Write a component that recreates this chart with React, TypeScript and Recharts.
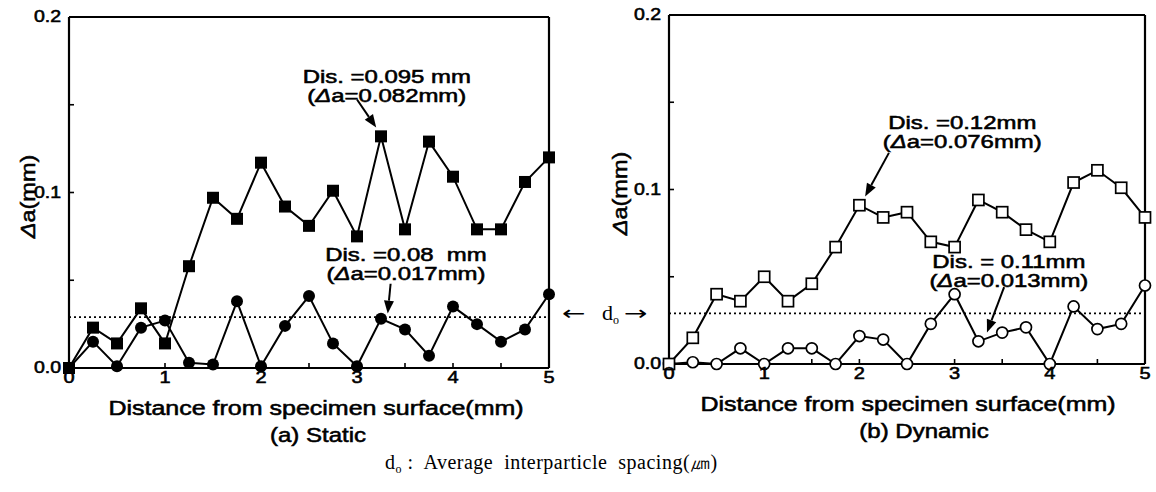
// Crack growth Δa vs distance from specimen surface — static / dynamic panels
import React from 'react';
import { LineChart, Line, XAxis, YAxis, ReferenceLine, ReferenceDot } from 'recharts';

const distance = [0, 0.25, 0.5, 0.75, 1, 1.25, 1.5, 1.75, 2, 2.25, 2.5, 2.75, 3, 3.25, 3.5, 3.75, 4, 4.25, 4.5, 4.75, 5];
const staticSquares = [0, 0.023, 0.014, 0.034, 0.014, 0.058, 0.097, 0.085, 0.117, 0.092, 0.081, 0.101, 0.075, 0.132, 0.079, 0.129, 0.109, 0.079, 0.079, 0.106, 0.12];
const staticCircles = [0, 0.015, 0.001, 0.023, 0.027, 0.003, 0.002, 0.038, 0.001, 0.024, 0.041, 0.014, 0.001, 0.028, 0.022, 0.007, 0.035, 0.025, 0.015, 0.022, 0.042];
const dynamicSquares = [0, 0.015, 0.04, 0.036, 0.05, 0.036, 0.046, 0.067, 0.091, 0.084, 0.087, 0.07, 0.067, 0.094, 0.087, 0.077, 0.07, 0.104, 0.111, 0.101, 0.084];
const dynamicCircles = [0, 0.001, 0, 0.009, 0, 0.009, 0.009, 0, 0.016, 0.014, 0, 0.023, 0.04, 0.013, 0.018, 0.021, 0, 0.033, 0.02, 0.023, 0.045];

const xTicks = [0, 0.5, 1, 1.5, 2, 2.5, 3, 3.5, 4, 4.5, 5];
const yTicks = [0, 0.05, 0.1, 0.15, 0.2];
const interparticleSpacing = 0.029;

interface Note {
  x: number;
  y: number;
  lines: string[];
  from: { x: number; y: number };
  to: { x: number; y: number };
}

const staticNotes: Note[] = [
  { x: 3.31, y: 0.166, lines: ['Dis. =0.095 mm', '(Δa=0.082mm)'], from: { x: 3.0, y: 0.153 }, to: { x: 3.2, y: 0.137 } },
  { x: 3.51, y: 0.065, lines: ['Dis. =0.08  mm', '(Δa=0.017mm)'], from: { x: 3.35, y: 0.048 }, to: { x: 3.32, y: 0.031 } },
];
const dynamicNotes: Note[] = [
  { x: 3.08, y: 0.1385, lines: ['Dis. =0.12mm', '(Δa=0.076mm)'], from: { x: 2.31, y: 0.121 }, to: { x: 2.06, y: 0.096 } },
  { x: 3.57, y: 0.059, lines: ['Dis. = 0.11mm', '(Δa=0.013mm)'], from: { x: 3.52, y: 0.044 }, to: { x: 3.34, y: 0.018 } },
];

const FONT = "'Liberation Sans', Arial, Helvetica, sans-serif";
const SERIF = "'Liberation Serif', 'Times New Roman', serif";

function rich(s: string) {
  const parts = s.split('Δ');
  const out: React.ReactNode[] = [];
  parts.forEach((p, i) => {
    if (i > 0) out.push(<tspan key={`d${i}`} fontStyle="italic">Δ</tspan>);
    if (p) out.push(<tspan key={`p${i}`}>{p}</tspan>);
  });
  return out;
}

const SText: React.FC<{ x: number; y: number; size?: number; sx?: number; anchor?: string; rotate?: number; children: React.ReactNode }> = ({
  x,
  y,
  size = 20,
  sx = 1.25,
  anchor = 'middle',
  rotate = 0,
  children,
}) => (
  <g transform={`translate(${x},${y}) rotate(${rotate}) scale(${sx},1)`}>
    <text
      x={0}
      y={0}
      fontSize={size}
      textAnchor={anchor as any}
      dominantBaseline="central"
      fontFamily={FONT}
      fill="#000"
      stroke="#000"
      strokeWidth={0.55}
      style={{ whiteSpace: 'pre' }}
    >
      {children}
    </text>
  </g>
);

const XTick = (props: any) => {
  const { x, y, payload } = props;
  const v = payload.value as number;
  if (Math.abs(v - Math.round(v)) > 1e-6) return null;
  return <SText x={x} y={y + 7} size={16} sx={1.25}>{String(v)}</SText>;
};

const YTick = (props: any) => {
  const { x, y, payload } = props;
  const v = payload.value as number;
  if (Math.abs(v * 10 - Math.round(v * 10)) > 1e-6) return null;
  return <SText x={x} y={y} size={16} sx={1.22} anchor="end">{v.toFixed(1)}</SText>;
};

const FilledSquare = (p: any) => <rect key={p.index} x={p.cx - 6} y={p.cy - 6} width={12} height={12} fill="#000" />;
const FilledCircle = (p: any) => <circle key={p.index} cx={p.cx} cy={p.cy} r={6} fill="#000" />;
const OpenSquare = (p: any) => (
  <rect key={p.index} x={p.cx - 5.5} y={p.cy - 5.5} width={11} height={11} fill="#fff" stroke="#000" strokeWidth={1.7} />
);
const OpenCircle = (p: any) => <circle key={p.index} cx={p.cx} cy={p.cy} r={5.5} fill="#fff" stroke="#000" strokeWidth={1.7} />;

const Arrow = (p: any) => {
  const { x1, y1, x2, y2 } = p;
  const dx = x2 - x1;
  const dy = y2 - y1;
  const len = Math.sqrt(dx * dx + dy * dy) || 1;
  const ux = dx / len;
  const uy = dy / len;
  const hl = 13;
  const hw = 5;
  const bx = x2 - ux * hl;
  const by = y2 - uy * hl;
  return (
    <g>
      <line x1={x1} y1={y1} x2={bx} y2={by} stroke="#000" strokeWidth={2} />
      <polygon points={`${x2},${y2} ${bx - uy * hw},${by + ux * hw} ${bx + uy * hw},${by - ux * hw}`} fill="#000" />
    </g>
  );
};

interface PanelProps {
  left: number;
  width: number;
  top: number;
  bottom: number;
  axisWidth: number;
  squares: number[];
  circles: number[];
  open: boolean;
  notes: Note[];
  caption: string;
  titleShift: number;
  captionShift: number;
  yTitleShift: number;
}

const Panel: React.FC<PanelProps> = ({ left, width, top, bottom, axisWidth, squares, circles, open, notes, caption, titleShift, captionShift, yTitleShift }) => {
  const data = distance.map((x, i) => ({ x, sq: squares[i], ci: circles[i] }));
  const height = 450;
  const axisLine = { stroke: '#000', strokeWidth: 2.2 };
  return (
    <div style={{ position: 'absolute', left, top: 0 }}>
      <LineChart width={width} height={height} data={data} margin={{ top, right: 11, bottom: 0, left: 0 }}>
        <XAxis
          dataKey="x"
          type="number"
          domain={[0, 5]}
          ticks={xTicks}
          interval={0}
          height={height - bottom}
          tickSize={-5}
          tickMargin={8}
          tick={<XTick />}
          tickLine={{ stroke: '#000', strokeWidth: 1.6 }}
          axisLine={axisLine}
        />
        <YAxis
          type="number"
          domain={[0, 0.2]}
          ticks={yTicks}
          interval={0}
          width={axisWidth}
          tickSize={-5}
          tickMargin={13}
          tick={<YTick />}
          tickLine={{ stroke: '#000', strokeWidth: 1.6 }}
          axisLine={axisLine}
        />
        <ReferenceLine y={0.2} stroke="#000" strokeWidth={2.2} />
        <ReferenceLine x={5} stroke="#000" strokeWidth={2.2} />
        <ReferenceLine y={interparticleSpacing} stroke="#000" strokeWidth={1.6} strokeDasharray="2 3" />
        <Line dataKey="ci" stroke="#000" strokeWidth={2} dot={open ? OpenCircle : FilledCircle} activeDot={false} isAnimationActive={false} />
        <Line dataKey="sq" stroke="#000" strokeWidth={2} dot={open ? OpenSquare : FilledSquare} activeDot={false} isAnimationActive={false} />
        {notes.map((n, i) => (
          <ReferenceLine key={`a${i}`} segment={[n.from, n.to]} ifOverflow="visible" shape={(p: any) => <Arrow {...p} />} />
        ))}
        {notes.map((n, i) => (
          <ReferenceDot
            key={`t${i}`}
            x={n.x}
            y={n.y}
            r={0}
            ifOverflow="visible"
            shape={(p: any) => (
              <g>
                {n.lines.map((l, j) => (
                  <SText key={j} x={p.cx} y={p.cy + j * 19} size={18} sx={1.33}>
                    {rich(l)}
                  </SText>
                ))}
              </g>
            )}
          />
        ))}
        <ReferenceDot
          x={2.5}
          y={0}
          r={0}
          ifOverflow="visible"
          shape={(p: any) => (
            <g>
              <SText x={p.cx + titleShift} y={p.cy + 40} size={20} sx={1.25}>Distance from specimen surface(mm)</SText>
              <SText x={p.cx + captionShift} y={p.cy + 67} size={20} sx={1.2}>{caption}</SText>
            </g>
          )}
        />
        <ReferenceDot
          x={0}
          y={0.1}
          r={0}
          ifOverflow="visible"
          shape={(p: any) => (
            <SText x={p.cx + yTitleShift} y={p.cy + 4} size={21} sx={1.12} rotate={-90}>
              {rich('Δa(mm)')}
            </SText>
          )}
        />
      </LineChart>
    </div>
  );
};

const arrowGlyph: React.CSSProperties = {
  position: 'absolute',
  top: 0,
  fontFamily: "'DejaVu Sans', sans-serif",
  fontSize: 20,
  display: 'inline-block',
  transform: 'scaleX(1.4)',
  transformOrigin: 'left center',
};

export default function App() {
  return (
    <div style={{ position: 'absolute', left: 0, top: 0, width: 1156, height: 492, background: '#fff', overflow: 'hidden' }}>
      <Panel
        left={0}
        width={560}
        top={17}
        bottom={368}
        axisWidth={69}
        squares={staticSquares}
        circles={staticCircles}
        open={false}
        notes={staticNotes}
        caption="(a) Static"
        titleShift={7}
        captionShift={9}
        yTitleShift={-42}
      />
      <Panel
        left={580}
        width={576}
        top={15}
        bottom={364}
        axisWidth={89}
        squares={dynamicSquares}
        circles={dynamicCircles}
        open={true}
        notes={dynamicNotes}
        caption="(b) Dynamic"
        titleShift={1}
        captionShift={17}
        yTitleShift={-50}
      />
      <div style={{ position: 'absolute', left: 562, top: 300, width: 90, height: 26, fontFamily: SERIF, fontSize: 22, lineHeight: '26px', whiteSpace: 'pre' }}>
        <span style={{ ...arrowGlyph, left: 0 }}>←</span>
        <span style={{ position: 'absolute', left: 40, top: 0 }}>
          d<span style={{ fontSize: 12, position: 'relative', top: 4 }}>o</span>
        </span>
        <span style={{ ...arrowGlyph, left: 62 }}>→</span>
      </div>
      <div style={{ position: 'absolute', left: 385, top: 450, fontFamily: SERIF, fontSize: 20, lineHeight: '24px', whiteSpace: 'pre', letterSpacing: 0.5 }}>
        d<span style={{ fontSize: 12, position: 'relative', top: 4 }}>o</span> :  Average  interparticle  spacing(㎛)
      </div>
    </div>
  );
}
